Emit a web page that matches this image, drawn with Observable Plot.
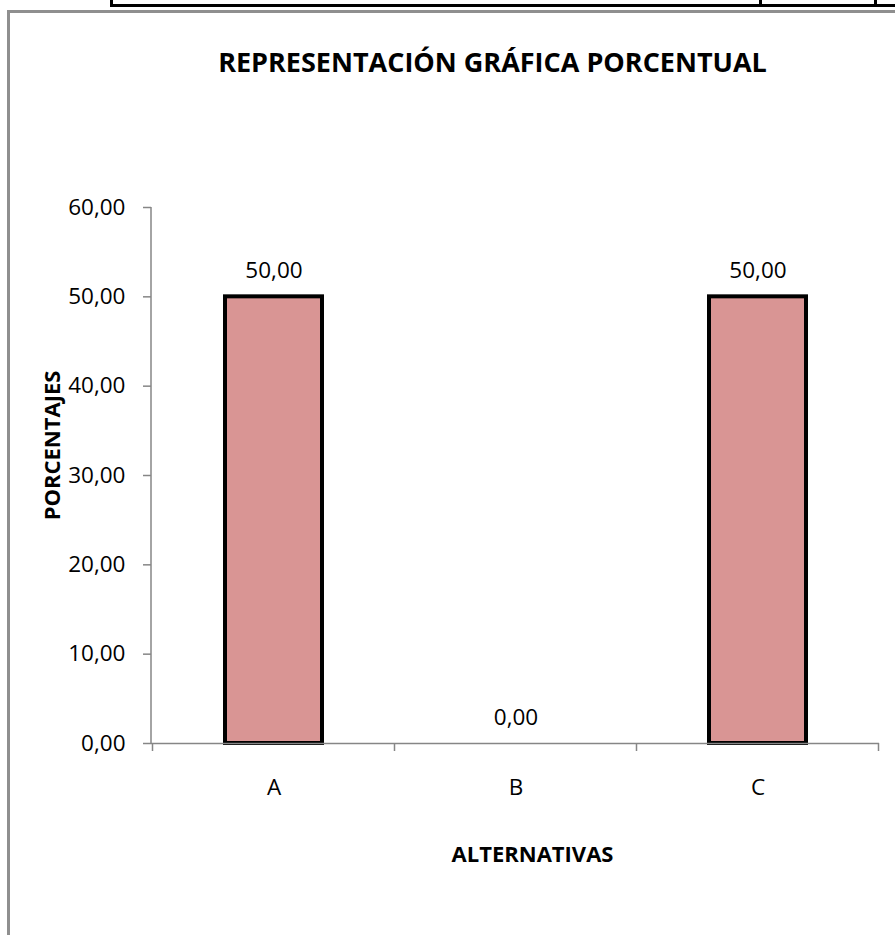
<!DOCTYPE html>
<html>
<head>
<meta charset="utf-8">
<script src="https://cdn.jsdelivr.net/npm/d3@7"></script>
<script src="https://cdn.jsdelivr.net/npm/@observablehq/plot@0.6"></script>
<style>
  html, body { margin: 0; padding: 0; background: #fff; }
  #wrap { position: relative; width: 895px; height: 935px; overflow: hidden; font-family: "Open Sans", sans-serif; }
  #wrap svg { position: absolute; left: 0; top: 0; }
  .frame { position: absolute; left: 7px; top: 10px; width: 1000px; height: 1000px; border-left: 3px solid #8f8f8f; border-top: 3px solid #8f8f8f; box-sizing: border-box; }
  .tline { position: absolute; left: 110px; top: 4px; width: 800px; height: 3px; background: #000; }
  .tv { position: absolute; top: 0; width: 3px; height: 7px; background: #000; }
</style>
</head>
<body>
<div id="wrap">
  <div class="tline"></div>
  <div class="tv" style="left:110px"></div>
  <div class="tv" style="left:759px"></div>
  <div class="tv" style="left:874px"></div>
  <div class="frame"></div>
</div>
<script>
const categories = ["A", "B", "C"];
const values = [50, 0, 50];
const yTicks = [0, 10, 20, 30, 40, 50, 60];
const title = "REPRESENTACIÓN GRÁFICA PORCENTUAL";
const xLabel = "ALTERNATIVAS";
const yLabel = "PORCENTAJES";

const data = categories.map((c, i) => ({cat: c, value: values[i]}));
const fmt = d => d.toFixed(2).replace(".", ",");

// Excel-style axes: y axis line + x category boundary ticks
function axisLines(index, scales, values, dim) {
  const x = scales.x;
  const bw = x.bandwidth ? x.bandwidth() : 0;
  const step = x.step ? x.step() : (x(categories[1]) - x(categories[0]));
  const y0 = dim.height - dim.marginBottom;
  const g = d3.create("svg:g").attr("stroke", "#868686").attr("stroke-width", 1.5);
  g.append("line").attr("x1", dim.marginLeft).attr("x2", dim.marginLeft)
    .attr("y1", dim.marginTop).attr("y2", y0);
  const xs = categories.map(c => x(c) + bw / 2 - step / 2);
  xs.push(x(categories[categories.length - 1]) + bw / 2 + step / 2);
  for (const px of xs) {
    g.append("line").attr("x1", px).attr("x2", px).attr("y1", y0).attr("y2", y0 + 8);
  }
  return g.node();
}

const chart = Plot.plot({
  width: 895,
  height: 935,
  marginLeft: 151,
  marginRight: 16,
  marginTop: 207,
  marginBottom: 192,
  style: {fontFamily: "'Open Sans', sans-serif", background: "transparent", color: "#000"},
  x: {domain: categories, paddingInner: 0.6, paddingOuter: 0.3},
  y: {domain: [0, 60]},
  marks: [
    Plot.axisY({ticks: yTicks, tickFormat: fmt, tickSize: 8, tickPadding: 18, label: null, fontSize: 22.5, stroke: "#868686", strokeWidth: 1.5, color: "#000"}),
    Plot.axisX({tickSize: 0, tickPadding: 36, label: null, fontSize: 22.5, color: "#000"}),
    Plot.barY(data, {x: "cat", y: "value", fill: "#D99594", stroke: "#000", strokeWidth: 4, filter: d => d.value > 0}),
    Plot.ruleY([0], {stroke: "#868686", strokeWidth: 1.5}),
    axisLines,
    Plot.text(data, {x: "cat", y: "value", text: d => fmt(d.value), dy: -26, fontSize: 22.5, fill: "#000"}),
    Plot.text([title], {frameAnchor: "top", dx: -23, dy: -155, fontSize: 27, fontWeight: "bold", fill: "#000"}),
    Plot.text([xLabel], {frameAnchor: "bottom", dx: 17, dy: 118, fontSize: 22, fontWeight: "bold", fill: "#000"}),
    Plot.text([yLabel], {frameAnchor: "left", textAnchor: "middle", rotate: -90, dx: -99, dy: -30, fontSize: 22, fontWeight: "bold", fill: "#000"})
  ]
});
document.getElementById("wrap").appendChild(chart);
</script>
</body>
</html>
